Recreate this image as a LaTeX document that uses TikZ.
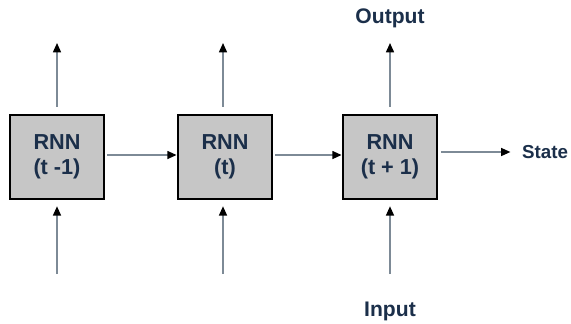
\documentclass[tikz,border=0pt]{standalone}
\usepackage{fontspec}
\setmainfont{Liberation Sans}
\usetikzlibrary{
    arrows.meta,
    positioning,
    calc
}
\definecolor{rnngray}{HTML}{C6C6C6}
\definecolor{linkgray}{HTML}{7D8A96}
\definecolor{labelblue}{HTML}{1B2F4A}

\begin{document}
\begin{tikzpicture}[
    x=0.03cm,
    y=-0.03cm,
    every node/.style={text=labelblue},
    cell/.style={
        rectangle,
        minimum width=2.82cm,
        minimum height=2.52cm,
        align=center,
        font=\fontsize{18.5}{21}\selectfont\bfseries,
        line width=2.4pt,
        draw=black,
        fill=rnngray
    },
    label/.style={
        font=\fontsize{18}{20}\selectfont\bfseries
    },
    arrow/.style={
        -{Triangle[length=2.8mm,width=2.4mm,color=black]},
        line width=1.3pt,
        draw=linkgray
    }
]

\useasboundingbox (0,0) rectangle (571,323);

% =====================================================
% RNN cells
% =====================================================

\node[cell] (rnnA) at (57,157) {RNN\\(t -1)};
\node[cell] (rnnB) at (225,157) {RNN\\(t)};
\node[cell] (rnnC) at (390,157) {RNN\\(t + 1)};

% =====================================================
% Labels
% =====================================================

\node[label] (output) at (390,18) {Output};
\node[label] (input) at (390,311) {Input};
\node[label, font=\fontsize{16}{18}\selectfont\bfseries, anchor=west, inner xsep=0pt]
    (state) at (522,152) {State};

% =====================================================
% Free ends
% =====================================================

\coordinate (topA) at (57,43);
\coordinate (topB) at (223,43);
\coordinate (topC) at (390,43);
\coordinate (botA) at (57,274);
\coordinate (botB) at (223,274);
\coordinate (botC) at (390,274);

% =====================================================
% Arrows
% =====================================================

\draw[arrow] (rnnA.east) ++(2,-2) coordinate (linkA) -- (linkA -| rnnB.west);
\draw[arrow] (rnnB.east) ++(2,-2) coordinate (linkB) -- (linkB -| rnnC.west);
\draw[arrow, shorten <=2pt] (rnnC.east |- state.west) -- ++(72,0) coordinate (stateend);

\draw[arrow] (rnnA.north -| topA) ++(0,-7) -- (topA);
\draw[arrow] (rnnB.north -| topB) ++(0,-7) -- (topB);
\draw[arrow] (rnnC.north -| topC) ++(0,-7) -- (topC);

\draw[arrow, shorten >=5pt] (botA) -- (rnnA.south -| botA);
\draw[arrow, shorten >=5pt] (botB) -- (rnnB.south -| botB);
\draw[arrow, shorten >=5pt] (botC) -- (rnnC.south -| botC);

\end{tikzpicture}
\end{document}
